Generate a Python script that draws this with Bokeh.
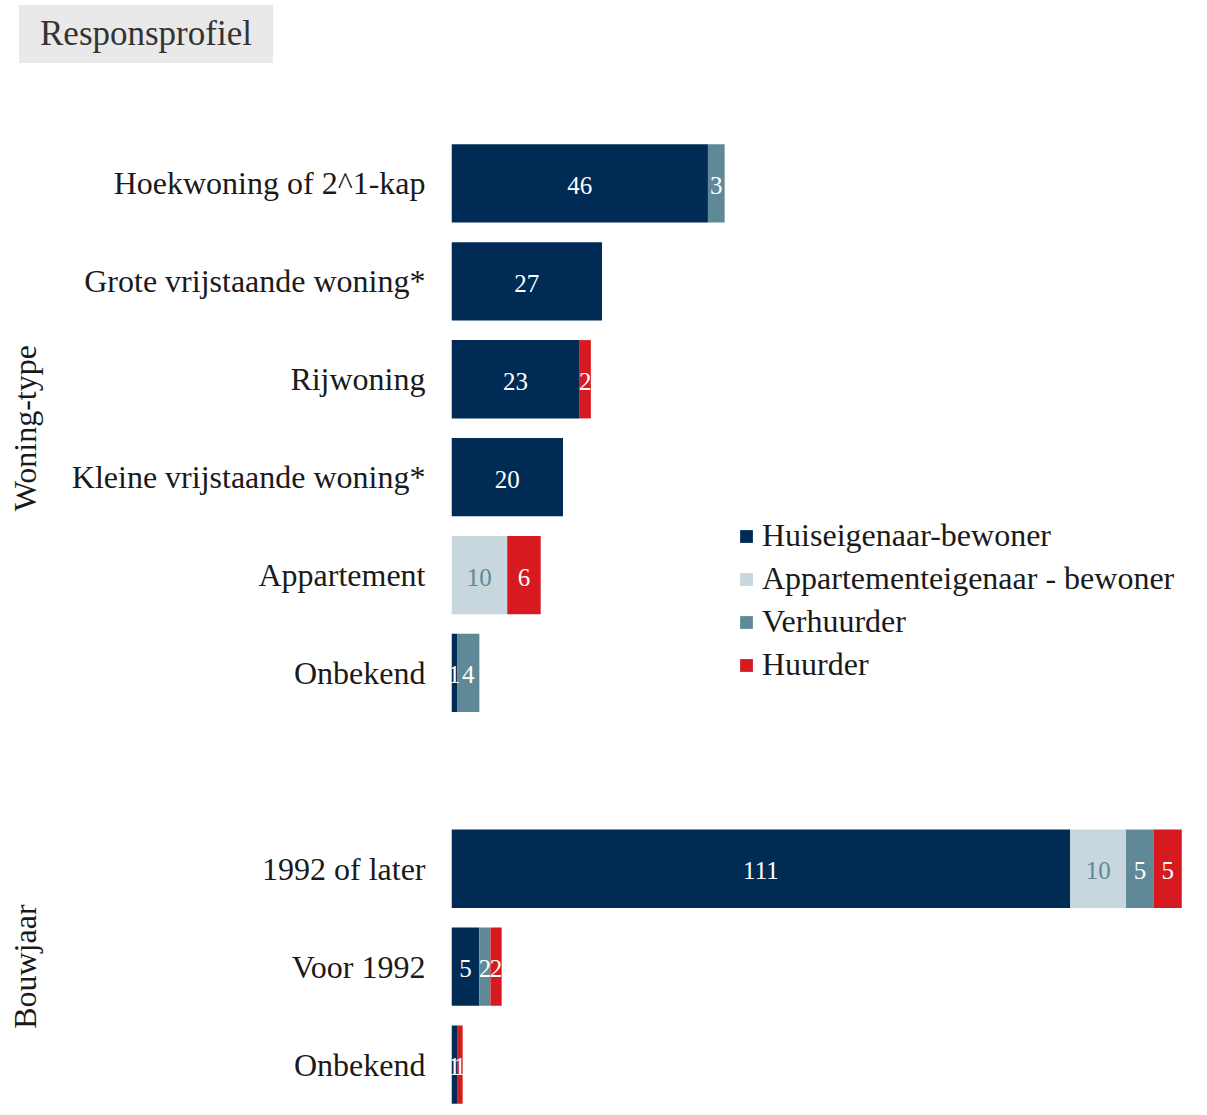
from bokeh.plotting import figure
from bokeh.models import ColumnDataSource, FactorRange, Range1d, Legend, LegendItem, Div
from bokeh.layouts import column
from bokeh.embed import file_html
from bokeh.resources import INLINE
from bokeh.core.properties import value

FONT = "Liberation Serif"

title_text = "Responsprofiel"
group_woning = "Woning-type"
group_bouw = "Bouwjaar"

woning_types = ["Hoekwoning of 2^1-kap", "Grote vrijstaande woning*", "Rijwoning",
                "Kleine vrijstaande woning*", "Appartement", "Onbekend"]
woning_huiseigenaar = [46, 27, 23, 20, 0, 1]
woning_appartementeigenaar = [0, 0, 0, 0, 10, 0]
woning_verhuurder = [3, 0, 0, 0, 0, 4]
woning_huurder = [0, 0, 2, 0, 6, 0]

bouwjaren = ["1992 of later", "Voor 1992", "Onbekend"]
bouw_huiseigenaar = [111, 5, 1]
bouw_appartementeigenaar = [10, 0, 0]
bouw_verhuurder = [5, 2, 0]
bouw_huurder = [5, 2, 1]

series = ["Huiseigenaar-bewoner", "Appartementeigenaar - bewoner", "Verhuurder", "Huurder"]
colors = ["#002b55", "#c8d6dd", "#5f8997", "#d71920"]
label_colors = ["#ffffff", "#5f8997", "#ffffff", "#ffffff"]

# build rows bottom -> top
rows = [(group_bouw, b) for b in reversed(bouwjaren)] + [(group_woning, w) for w in reversed(woning_types)]
vals = {
    series[0]: list(reversed(bouw_huiseigenaar)) + list(reversed(woning_huiseigenaar)),
    series[1]: list(reversed(bouw_appartementeigenaar)) + list(reversed(woning_appartementeigenaar)),
    series[2]: list(reversed(bouw_verhuurder)) + list(reversed(woning_verhuurder)),
    series[3]: list(reversed(bouw_huurder)) + list(reversed(woning_huurder)),
}
data = {"y": rows}
data.update(vals)
source = ColumnDataSource(data)

yr = FactorRange(*rows, factor_padding=0.0, group_padding=1.0, range_padding=0.0)

p = figure(y_range=yr, x_range=Range1d(0, 134), width=1198, height=1050,
           output_backend="svg", toolbar_location=None,
           min_border_left=451, min_border_right=0, min_border_top=71, min_border_bottom=0)

renderers = p.hbar_stack(series, y="y", height=0.8, color=colors, line_color=None, source=source)

# value labels
lx, ly, lt, lc = [], [], [], []
for i, r in enumerate(rows):
    left = 0
    for k, s in enumerate(series):
        v = vals[s][i]
        if v > 0:
            lx.append(left + v / 2)
            ly.append(r)
            lt.append(str(v))
            lc.append(label_colors[k])
        left += v
lsrc = ColumnDataSource(dict(x=lx, y=ly, text=lt, color=lc))
p.text(x="x", y="y", text="text", text_color="color", source=lsrc,
       text_align="center", text_baseline="middle", y_offset=2,
       text_font=value(FONT), text_font_size="25px")

p.xaxis.visible = False
p.xgrid.visible = False
p.ygrid.visible = False
p.outline_line_color = None
ax = p.yaxis[0]
ax.axis_line_color = None
ax.major_tick_line_color = None
ax.minor_tick_line_color = None
ax.major_tick_out = 0
ax.major_tick_in = 0
ax.major_label_standoff = 26
ax.major_label_text_font = FONT
ax.major_label_text_font_size = "32px"
ax.major_label_text_color = "#1a1a1a"
ax.group_text_font = FONT
ax.group_text_font_size = "32px"
ax.group_text_font_style = "normal"
ax.group_text_color = "#1a1a1a"
ax.separator_line_color = None

legend = Legend(items=[LegendItem(label=s, renderers=[r]) for s, r in zip(series, renderers)],
                location=(287, 430), orientation="vertical",
                glyph_width=16, glyph_height=16, label_standoff=8,
                label_text_font=FONT, label_text_font_size="32px", label_text_color="#1a1a1a",
                label_height=31, spacing=6, padding=0, margin=0,
                border_line_color=None, background_fill_alpha=0)
p.add_layout(legend)

title = Div(text=('<div style="width:254px;height:58px;background:#e9e9e9;box-sizing:border-box;'
                  'padding-left:21px;line-height:58px;font-family:\'Liberation Serif\';'
                  'font-size:35px;color:#333333;">' + title_text + '</div>'),
            width=254, height=58, margin=(5, 0, 0, 19))

layout = column(title, p, spacing=0)
open("out.html", "w").write(file_html(layout, INLINE))
